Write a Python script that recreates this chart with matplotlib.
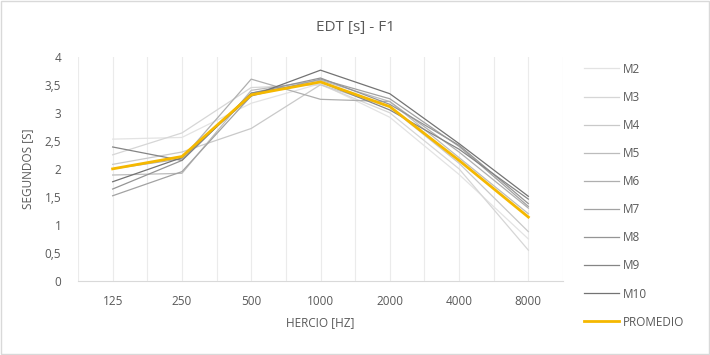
import numpy as np
import matplotlib.pyplot as plt
from matplotlib.patches import Rectangle

frecuencias = ['125', '250', '500', '1000', '2000', '4000', '8000']

m2 = [2.53, 2.56, 3.17, 3.52, 2.92, 1.90, 0.75]
m3 = [2.25, 2.64, 3.45, 3.50, 3.00, 2.00, 0.55]
m4 = [2.08, 2.30, 2.72, 3.50, 3.10, 2.10, 0.88]
m5 = [1.89, 1.92, 3.40, 3.58, 3.20, 2.20, 1.20]
m6 = [2.00, 2.18, 3.60, 3.24, 3.20, 2.30, 1.30]
m7 = [1.52, 1.95, 3.30, 3.60, 3.25, 2.40, 1.33]
m8 = [1.64, 2.15, 3.35, 3.62, 3.15, 2.42, 1.38]
m9 = [2.39, 2.15, 3.35, 3.55, 3.05, 2.35, 1.46]
m10 = [1.77, 2.20, 3.30, 3.76, 3.34, 2.45, 1.51]
promedio = [2.00, 2.22, 3.32, 3.55, 3.11, 2.15, 1.14]

series = [('M2', m2), ('M3', m3), ('M4', m4), ('M5', m5), ('M6', m6),
          ('M7', m7), ('M8', m8), ('M9', m9), ('M10', m10)]
grises = ['#e3e3e3', '#d6d6d6', '#c9c9c9', '#bcbcbc', '#afafaf',
          '#a2a2a2', '#959595', '#858585', '#737373']

plt.rcParams['font.family'] = ['Open Sans', 'DejaVu Sans']
texto = '#595959'

fig = plt.figure(figsize=(7.1, 3.55), dpi=100)
ax = fig.add_axes([78 / 710, 1 - 281 / 355, (563 - 78) / 710, (281 - 56.7) / 355])

x = np.arange(len(frecuencias))
for xv in np.arange(-0.5, len(frecuencias), 0.5):
    ax.axvline(xv, color='#ebebeb', lw=0.8, zorder=0)

for (nombre, vals), c in zip(series, grises):
    ax.plot(x, vals, color=c, lw=0.9, label=nombre)
ax.plot(x, promedio, color='#f5b800', lw=2.0, label='PROMEDIO')

ax.set_xlim(-0.5, len(frecuencias) - 0.5)
ax.set_ylim(0, 4)
ax.set_yticks(np.arange(0, 4.01, 0.5))
ax.set_yticklabels([('%g' % v).replace('.', ',') for v in np.arange(0, 4.01, 0.5)])
ax.set_xticks(x)
ax.set_xticklabels(frecuencias)
ax.tick_params(length=0, colors=texto, labelsize=8.5, pad=10)
ax.tick_params(axis='y', pad=12)
for s in ['top', 'right', 'left']:
    ax.spines[s].set_visible(False)
ax.spines['bottom'].set_color('#d9d9d9')

ax.set_xlabel('HERCIO [HZ]', color=texto, fontsize=8.5, labelpad=6)
ax.set_ylabel('SEGUNDOS [S]', color=texto, fontsize=8.5, labelpad=8)
fig.text(0.5, 1 - 27 / 355, 'EDT [s] - F1', ha='center', va='center',
         color=texto, fontsize=11)

leg = fig.legend(loc='upper left', bbox_to_anchor=(573 / 710, 1 - 52 / 355),
                 frameon=False, fontsize=8.5, handlelength=3.0,
                 labelspacing=1.28, handletextpad=0.35)
for t in leg.get_texts():
    t.set_color(texto)

fig.patches.append(Rectangle((0.002, 0.003), 0.996, 0.994, transform=fig.transFigure,
                             fill=False, edgecolor='#d9d9d9', lw=1))

fig.savefig('out.png', dpi=100)
